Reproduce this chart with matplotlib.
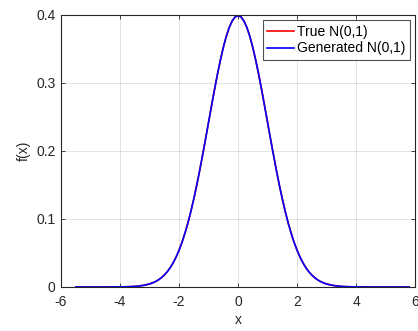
import matplotlib
matplotlib.use("Agg")
import matplotlib.pyplot as plt

x_vals = [-5.5, -5.0, -4.5, -4.0, -3.8, -3.6, -3.4, -3.2,
          -3.0, -2.9, -2.8, -2.7, -2.6, -2.5, -2.4, -2.3, -2.2, -2.1,
          -2.0, -1.9, -1.8, -1.7, -1.6, -1.5, -1.4, -1.3, -1.2, -1.1,
          -1.0, -0.9, -0.8, -0.7, -0.6, -0.5, -0.4, -0.3, -0.2, -0.1,
          0.0, 0.1, 0.2, 0.3, 0.4, 0.5, 0.6, 0.7, 0.8, 0.9,
          1.0, 1.1, 1.2, 1.3, 1.4, 1.5, 1.6, 1.7, 1.8, 1.9,
          2.0, 2.1, 2.2, 2.3, 2.4, 2.5, 2.6, 2.7, 2.8, 2.9,
          3.0, 3.2, 3.4, 3.6, 3.8, 4.0, 4.5, 5.0, 5.5, 5.8]
true_pdf = [0.0, 0.0, 0.0, 0.0001, 0.0003, 0.0006, 0.0012, 0.0024,
            0.0044, 0.0060, 0.0079, 0.0104, 0.0136, 0.0175, 0.0224, 0.0283, 0.0355, 0.0440,
            0.0540, 0.0656, 0.0790, 0.0940, 0.1109, 0.1295, 0.1497, 0.1714, 0.1942, 0.2179,
            0.2420, 0.2661, 0.2897, 0.3123, 0.3332, 0.3521, 0.3683, 0.3814, 0.3910, 0.3970,
            0.3989, 0.3970, 0.3910, 0.3814, 0.3683, 0.3521, 0.3332, 0.3123, 0.2897, 0.2661,
            0.2420, 0.2179, 0.1942, 0.1714, 0.1497, 0.1295, 0.1109, 0.0940, 0.0790, 0.0656,
            0.0540, 0.0440, 0.0355, 0.0283, 0.0224, 0.0175, 0.0136, 0.0104, 0.0079, 0.0060,
            0.0044, 0.0024, 0.0012, 0.0006, 0.0003, 0.0001, 0.0, 0.0, 0.0, 0.0]
gen_pdf = [0.0, 0.0, 0.0, 0.0001, 0.0003, 0.0006, 0.0012, 0.0024,
           0.0044, 0.0060, 0.0079, 0.0104, 0.0136, 0.0175, 0.0224, 0.0283, 0.0355, 0.0440,
           0.0540, 0.0656, 0.0790, 0.0940, 0.1109, 0.1295, 0.1497, 0.1714, 0.1942, 0.2179,
           0.2420, 0.2661, 0.2897, 0.3123, 0.3332, 0.3521, 0.3683, 0.3814, 0.3910, 0.3970,
           0.3989, 0.3970, 0.3910, 0.3814, 0.3683, 0.3521, 0.3332, 0.3123, 0.2897, 0.2661,
           0.2420, 0.2179, 0.1942, 0.1714, 0.1497, 0.1295, 0.1109, 0.0940, 0.0790, 0.0656,
           0.0540, 0.0440, 0.0355, 0.0283, 0.0224, 0.0175, 0.0136, 0.0104, 0.0079, 0.0060,
           0.0044, 0.0024, 0.0012, 0.0006, 0.0003, 0.0001, 0.0, 0.0, 0.0, 0.0]
x_ticks = [-6, -4, -2, 0, 2, 4, 6]
y_ticks = [0, 0.1, 0.2, 0.3, 0.4]
y_tick_labels = ["0", "0.1", "0.2", "0.3", "0.4"]

plt.rcParams['font.family'] = ['Liberation Sans', 'DejaVu Sans']
plt.rcParams['axes.unicode_minus'] = False
dark = (0.15, 0.15, 0.15)
fs = 10

fig = plt.figure(figsize=(4.18, 3.31), dpi=100)
ax = fig.add_axes([0.146, 0.133, 0.847, 0.822])
ax.plot(x_vals, true_pdf, color='red', lw=1.2, label='True N(0,1)')
ax.plot(x_vals, gen_pdf, color='blue', lw=1.2, label='Generated N(0,1)')
ax.set_xlim(-6, 6)
ax.set_ylim(0, 0.4)
ax.set_xticks(x_ticks)
ax.set_yticks(y_ticks)
ax.set_yticklabels(y_tick_labels)
ax.grid(True, color=(0.15, 0.15, 0.15), alpha=0.15, lw=0.6)
ax.set_axisbelow(True)
for s in ax.spines.values():
    s.set_color(dark)
    s.set_linewidth(0.8)
ax.tick_params(direction='in', top=True, right=True, length=3, width=0.6,
               colors=dark, labelsize=fs)
ax.tick_params(axis='x', pad=6)
ax.tick_params(axis='y', pad=4)
ax.set_xlabel('x', fontsize=fs, color=dark, labelpad=3)
ax.set_ylabel('f(x)', fontsize=fs, color=dark, labelpad=4)
leg = ax.legend(loc='upper right', fontsize=fs, frameon=True, fancybox=False,
                borderaxespad=0.4, handlelength=1.9, handletextpad=0.25,
                borderpad=0.3, labelspacing=0.2)
leg.get_frame().set_edgecolor(dark)
leg.get_frame().set_linewidth(0.8)
fig.savefig('out.png', dpi=100)
